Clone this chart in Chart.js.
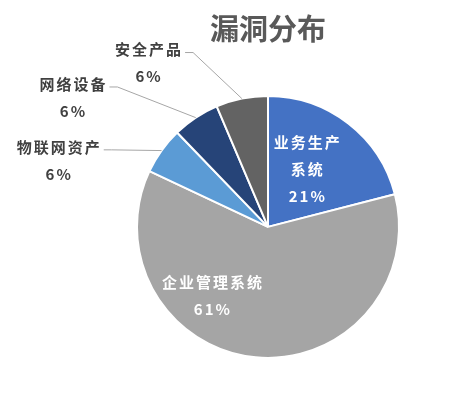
<!DOCTYPE html>
<html>
<head>
<meta charset="utf-8">
<script src="https://cdn.jsdelivr.net/npm/chart.js@4.4.0/dist/chart.umd.min.js"></script>
<style>
  body { margin: 0; background: #fff; }
  #wrap { width: 473px; height: 393px; }
</style>
</head>
<body>
<div id="wrap"><canvas id="chart-vuln"></canvas></div>
<script>
/* Datos */
const categories = ['业务生产系统', '企业管理系统', '物联网资产', '网络设备', '安全产品'];
const shares = [21, 61, 5.8, 5.8, 6.4];
const labelLines = [['业务生产', '系统'], ['企业管理系统'], ['物联网资产'], ['网络设备'], ['安全产品']];

const sliceColors = ['#4472C4', '#A5A5A5', '#5B9BD5', '#264478', '#636363'];

/* Donde va cada etiqueta: angulo (grados desde arriba, horario) y distancia en radios */
const labelSpots = [
  { inside: true, angle: 34, dist: 0.53 },
  { inside: true, angle: 219, dist: 0.68 },
  { angle: 287.6, dist: 1.68 },
  { angle: 303.5, dist: 1.79 },
  { angle: 323.8, dist: 1.55 }
];

/* Plugin: etiquetas de porcentaje y lineas guia */
const sliceLabels = {
  id: 'sliceLabels',
  afterDatasetsDraw(chart) {
    const { ctx } = chart;
    const meta = chart.getDatasetMeta(0);
    const total = shares.reduce((a, b) => a + b, 0);
    meta.data.forEach((arc, i) => {
      const { x, y, outerRadius, startAngle, endAngle } =
        arc.getProps(['x', 'y', 'outerRadius', 'startAngle', 'endAngle'], true);
      const spot = labelSpots[i];
      const a = spot.angle * Math.PI / 180;
      const cx = x + Math.sin(a) * spot.dist * outerRadius;
      const cy = y - Math.cos(a) * spot.dist * outerRadius;
      const lines = [...labelLines[i], Math.round(shares[i] / total * 100) + '%'];
      const lh = 27;
      const top = cy - (lines.length - 1) * lh / 2;

      ctx.save();
      ctx.font = 'bold 15px "Noto Sans CJK SC"';
      ctx.letterSpacing = '2px';
      ctx.textAlign = 'center';
      ctx.textBaseline = 'middle';
      ctx.fillStyle = spot.inside ? '#ffffff' : '#404040';
      lines.forEach((t, k) => ctx.fillText(t, cx + 1, top + k * lh));

      if (!spot.inside) {
        const mid = (startAngle + endAngle) / 2;
        const ex = x + Math.cos(mid) * outerRadius;
        const ey = y + Math.sin(mid) * outerRadius;
        const w = ctx.measureText(lines[0]).width;
        const sx = cx + w / 2 + 3;
        const sy = top + 3;
        ctx.beginPath();
        ctx.moveTo(sx, sy);
        ctx.lineTo(sx + 8, sy);
        ctx.lineTo(ex, ey);
        ctx.strokeStyle = '#A6A6A6';
        ctx.lineWidth = 1;
        ctx.stroke();
      }
      ctx.restore();
    });
  }
};

/* Chart: Distribucion */
const ctx = document.getElementById('chart-vuln').getContext('2d');
new Chart(ctx, {
  type: 'pie',
  data: {
    labels: categories,
    datasets: [{
      data: shares,
      backgroundColor: sliceColors,
      borderColor: '#ffffff',
      borderWidth: 2
    }]
  },
  options: {
    responsive: true,
    maintainAspectRatio: false,
    animation: false,
    layout: { padding: { left: 136, right: 73, top: 0, bottom: 34 } },
    plugins: {
      legend: { display: false },
      tooltip: { enabled: false },
      title: {
        display: true,
        text: '漏洞分布',
        color: '#595959',
        font: { family: 'Noto Sans CJK SC', size: 29, weight: 'bold' },
        padding: { top: 12, bottom: 48 }
      }
    }
  },
  plugins: [sliceLabels]
});
</script>
</body>
</html>
